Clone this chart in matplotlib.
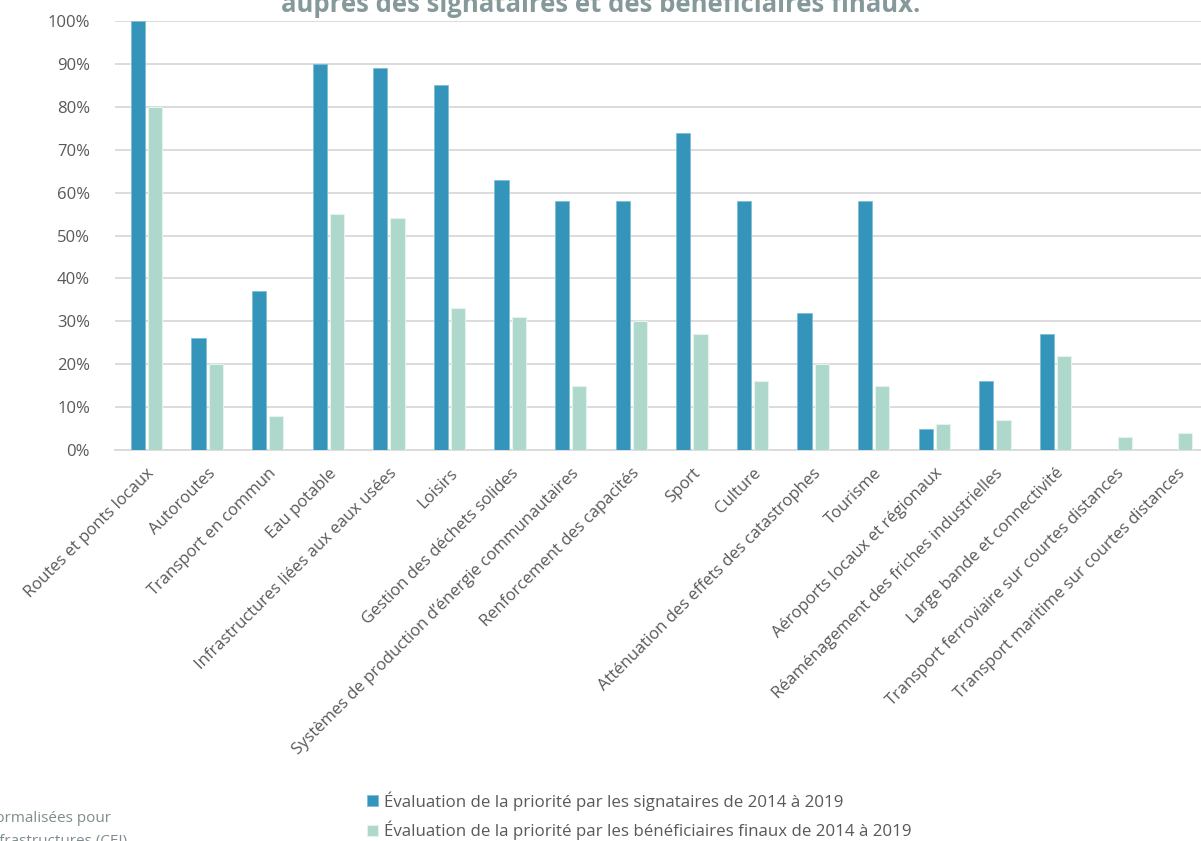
import numpy as np
import matplotlib.pyplot as plt
from matplotlib.ticker import PercentFormatter

plt.rcParams['font.family'] = ['Open Sans', 'DejaVu Sans']

# Categories and priority scores (%)
categories = [
    'Routes et ponts locaux', 'Autoroutes', 'Transport en commun', 'Eau potable',
    'Infrastructures liées aux eaux usées', 'Loisirs', 'Gestion des déchets solides',
    'Systèmes de production d\u2019énergie communautaires', 'Renforcement des capacités',
    'Sport', 'Culture', 'Atténuation des effets des catastrophes', 'Tourisme',
    'Aéroports locaux et régionaux', 'Réaménagement des friches industrielles',
    'Large bande et connectivité', 'Transport ferroviaire sur courtes distances',
    'Transport maritime sur courtes distances',
]
signataires = [100, 26, 37, 90, 89, 85, 63, 58, 58, 74, 58, 32, 58, 5, 16, 27, 0, 0]
beneficiaires = [80, 20, 8, 55, 54, 33, 31, 15, 30, 27, 16, 20, 15, 6, 7, 22, 3, 4]

label_sig = 'Évaluation de la priorité par les signataires de 2014 à 2019'
label_ben = 'Évaluation de la priorité par les bénéficiaires finaux de 2014 à 2019'

dark = '#3494BA'
light = '#ADD8CB'
grey = '#595959'

fig = plt.figure(figsize=(12.01, 8.41), dpi=100)
ax = fig.add_axes([115 / 1201, 1 - 450 / 841, 1092 / 1201, 429 / 841])

x = np.arange(len(categories))
w = 0.235
ax.bar(x - 0.143, signataires, w, color=dark, edgecolor='#7fbfd6', linewidth=0.6,
       label=label_sig, zorder=3)
ax.bar(x + 0.143, beneficiaires, w, color=light, edgecolor='#e4f3ee', linewidth=0.8,
       label=label_ben, zorder=3)

ax.set_xlim(-0.52, len(categories) - 0.5)
ax.set_ylim(0, 100)
ax.set_yticks(range(0, 101, 10))
ax.yaxis.set_major_formatter(PercentFormatter(decimals=0))
ax.grid(axis='y', color='#d9d9d9', linewidth=1.3, zorder=0)
for s in ['top', 'right', 'left']:
    ax.spines[s].set_visible(False)
ax.spines['bottom'].set_color('#d9d9d9')
ax.spines['bottom'].set_linewidth(1.3)
ax.tick_params(axis='both', length=0, labelsize=12, labelcolor=grey)
ax.tick_params(axis='y', pad=18)

ax.set_xticks(x)
ax.set_xticklabels(categories, rotation=45, ha='right', rotation_mode='anchor')
ax.tick_params(axis='x', pad=11)

# Legend below the plot
fig.legend(loc='upper left', bbox_to_anchor=(352 / 1201, 1 - 776 / 841), frameon=False,
           fontsize=12.2, labelcolor=grey, handlelength=0.65, handleheight=0.65,
           handletextpad=0.35, labelspacing=0.6)

# Title (top of the slide)
fig.text(0.5, 1 - 5 / 841, 'auprès des signataires et des bénéficiaires finaux.',
         ha='center', va='center', fontsize=18.5, fontweight='bold', color='#86999a')

# Source note at the bottom left
fig.text(-14 / 1201, 1 - 818 / 841, 'normalisées pour', ha='left', va='center',
         fontsize=11, color='#7f8c8d')
fig.text(-14 / 1201, 1 - 841 / 841, 'infrastructures (CEI)', ha='left', va='center',
         fontsize=11, color='#7f8c8d')

fig.savefig('out.png', dpi=100)
